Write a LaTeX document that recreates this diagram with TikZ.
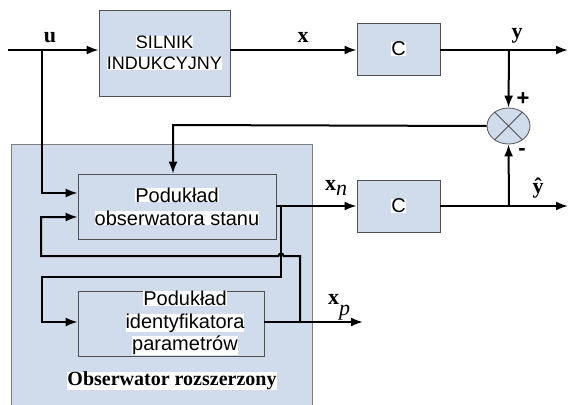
\documentclass[tikz,border=0pt]{standalone}
\usepackage{fontspec}
\setmainfont{Liberation Serif}
\setsansfont{Liberation Sans}
\usetikzlibrary{arrows.meta,shapes.geometric}
\definecolor{boxblue}{RGB}{208,220,236}
\definecolor{boxline}{RGB}{80,80,80}
\definecolor{outline}{RGB}{128,128,128}
\newcommand{\hl}[1]{{\setlength{\fboxsep}{0pt}\colorbox{white}{#1}}}
\tikzset{
  blockbox/.style={draw=boxline,fill=boxblue,line width=0.8pt,inner sep=0pt,align=center,font=\sffamily\fontsize{20}{23}\selectfont},
  conn/.style={line width=2pt,draw=black},
  arr/.style={conn,-{Latex[length=12pt,width=9pt]}},
  lbl/.style={inner sep=0pt,font=\bfseries\fontsize{22}{22}\selectfont},
}
\begin{document}
\begin{tikzpicture}[x=1pt,y=-1pt]
\useasboundingbox (0,0) rectangle (569,404);
% outer observer box
\node[draw=outline,fill=boxblue,line width=0.8pt,minimum width=301pt,minimum height=266pt,inner sep=0pt] (outer) at (161.5,277) {};
% blocks
\node[blockbox,font=\sffamily\fontsize{18}{21}\selectfont,minimum width=131pt,minimum height=86pt] (silnik) at (164.5,53) {\hl{SILNIK}\\\hl{INDUKCYJNY}};
\node[blockbox,minimum width=83pt,minimum height=52pt] (c1) at (398.5,49) {\hl{C}};
\node[blockbox,minimum width=83pt,minimum height=52pt] (c2) at (398.5,206) {\hl{C}};
\node[blockbox,minimum width=198pt,minimum height=65pt] (obs) at (177,206.5) {\hl{Podukład}\\\hl{obserwatora stanu}};
\node[blockbox,minimum width=186pt,minimum height=65pt] (ident) at (171,323.5) {};
\node[inner sep=0pt,align=center,font=\sffamily\fontsize{20}{22.5}\selectfont] (identtxt) at (185,323) {\hl{Podukład}\\\hl{identyfikatora}\\\hl{parametrów}};
\node[ellipse,draw=boxline,fill=boxblue,line width=0.8pt,minimum width=43pt,minimum height=36pt,inner sep=0pt] (sum) at (508.5,126) {};
\draw[boxline,line width=0.8pt] (sum.45) -- (sum.225) (sum.135) -- (sum.315);
% coordinates
\coordinate (in) at (8,50);
\coordinate (ub) at (42,50);
\coordinate (yb) at (509,50);
\coordinate (yout) at (568,50);
\coordinate (fb) at (173,125);
\coordinate (xnb) at (281,206);
\coordinate (yhb) at (509,206);
\coordinate (yhout) at (568,206);
\coordinate (xpb) at (300,322);
\coordinate (xpout) at (363,322);
% top path
\draw[arr] (in) -- (ub -| silnik.west);
\draw[arr] (silnik.east |- ub) -- (c1.west |- ub);
\draw[arr] (c1.east |- ub) -- (yout);
\draw[arr] (yb) -- (sum.north);
\draw[arr] (ub) |- (obs.west |- 0,193);
\draw[arr] (sum.west) -- (fb) -- (fb |- obs.north);
% xn path
\draw[arr] (obs.east |- xnb) -- (c2.west |- xnb);
\draw[arr] (c2.east |- yhb) -- (yhout);
\draw[arr] (yhb) -- (sum.south);
\draw[arr] (xnb) -- (281,277) -- (42,277) |- (ident.west |- 0,322);
% xp path
\draw[arr] (ident.east |- xpb) -- (xpout);
\draw[arr] (xpb) -- (300,256) -- (283.5,256) arc[start angle=0,end angle=-180,radius=2.5] -- (41,256) |- (obs.west |- 0,217);
% labels
\node[lbl] (lu) at (50,38) {u};
\node[lbl] (lx) at (303,37) {x};
\node[lbl] (ly) at (517,36) {y};
\node[lbl] (lyh) at (538,188) {ŷ};
\node[lbl] (lxn) at (336,188) {x\raisebox{-5pt}{\mdseries\itshape n}};
\node[lbl] (lxp) at (339,307) {x\raisebox{-11pt}{\mdseries\itshape p}};
\node[inner sep=0pt,font=\sffamily\bfseries\fontsize{22}{22}\selectfont] (plus) at (523,99) {+};
\node[inner sep=0pt,font=\sffamily\bfseries\fontsize{22}{22}\selectfont] (minus) at (522,152) {-};
\node[inner sep=0pt,font=\bfseries\fontsize{20}{20}\selectfont] (title) at (172,381) {\hl{Obserwator rozszerzony}};
\end{tikzpicture}
\end{document}
